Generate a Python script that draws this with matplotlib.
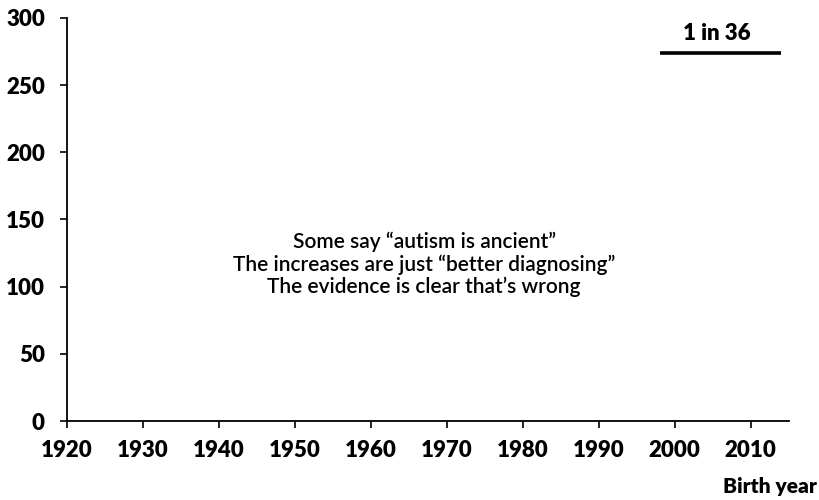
import matplotlib
matplotlib.use("Agg")
import matplotlib.pyplot as plt

plt.rcParams['font.family'] = ['Lato', 'DejaVu Sans']

# data
line_years = [1998, 2014]
line_value = [274, 274]
line_label = "1 in 36"
x_ticks = [1920, 1930, 1940, 1950, 1960, 1970, 1980, 1990, 2000, 2010]
y_ticks = [0, 50, 100, 150, 200, 250, 300]
note_lines = ["Some say \u201cautism is ancient\u201d",
              "The increases are just \u201cbetter diagnosing\u201d",
              "The evidence is clear that\u2019s wrong"]
note_y = [128.5, 112, 95.5]

fig = plt.figure(figsize=(8.19, 5), dpi=100)
ax = fig.add_axes([0.082, 0.158, 0.881, 0.806])

ax.plot(line_years, line_value, color="black", lw=2.6, solid_capstyle="butt")
ax.text(2005.5, 283.5, line_label, ha="center", va="baseline", fontsize=16, fontweight="heavy")

# annotation, one text per line
for txt, yy in zip(note_lines, note_y):
    ax.text(1967, yy, txt, ha="center", va="baseline", fontsize=15, fontweight="semibold")

ax.set_xlim(1920, 2015)
ax.set_ylim(0, 300)
ax.set_xticks(x_ticks)
ax.set_yticks(y_ticks)
for lab in ax.get_xticklabels() + ax.get_yticklabels():
    lab.set_fontweight("heavy")
ax.tick_params(axis="both", labelsize=16, width=1.2, length=5, direction="out", color="black")
ax.tick_params(axis="x", pad=9)
ax.tick_params(axis="y", pad=11)

for s in ["top", "right"]:
    ax.spines[s].set_visible(False)
for s in ["left", "bottom"]:
    ax.spines[s].set_linewidth(1.3)

fig.text(0.997, 0.008, "Birth year", ha="right", va="bottom", fontsize=15, fontweight="heavy")

fig.savefig("out.png", dpi=100, facecolor="white")
